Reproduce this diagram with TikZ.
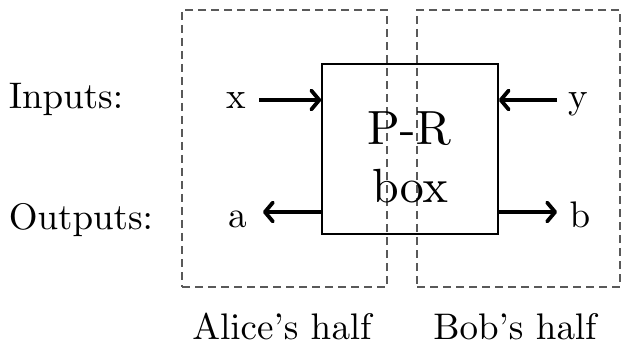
\documentclass[tikz,border=0pt]{standalone}
\usetikzlibrary{arrows.meta}
\font\lblfont=cmr10 at 37pt
\font\prfont=cmr10 at 48pt
\begin{document}
\begin{tikzpicture}[x=1pt,y=-1pt,
  half/.style={draw=black!65,dashed,line width=1.4pt,dash pattern=on 8pt off 5pt},
  prbox/.style={draw=black,line width=1.6pt,minimum width=176pt,minimum height=170pt,inner sep=0pt},
  prtext/.style={font=\prfont,inner sep=0pt,anchor=base},
  lbl/.style={font=\lblfont,inner sep=0pt,anchor=base},
  sig/.style={line width=3.8pt,-{Straight Barb[length=8pt,width=19pt,line width=3.8pt,round]}}
]
\useasboundingbox (0,0) rectangle (622,345);
\node[half,minimum width=205pt,minimum height=277pt,inner sep=0pt] (alice) at (284.5,148.5) {};
\node[half,minimum width=203pt,minimum height=277pt,inner sep=0pt] (bob) at (518.5,148.5) {};
\node[prbox] (pr) at (410,149) {};
\node[prtext] (prt) at (409,145) {P-R};
\node[prtext] (prb) at (410,202) {box};
\node[lbl] (inputs) at (66,109) {Inputs:};
\node[lbl] (outputs) at (81,229) {Outputs:};
\node[lbl] (x) at (236,109) {x};
\node[lbl] (a) at (237,227) {a};
\node[lbl] (y) at (578,109) {y};
\node[lbl] (b) at (580,227) {b};
\node[lbl] (ah) at (282,339) {Alice's half};
\node[lbl] (bh) at (515,339) {Bob's half};
\coordinate (xs) at (259,100);
\coordinate (xe) at (pr.west |- xs);
\coordinate (ye) at (pr.east |- xs);
\coordinate (ys) at (557,100);
\coordinate (as) at (pr.west |- 0,212);
\coordinate (ae) at (263,212);
\coordinate (bs) at (pr.east |- 0,212);
\coordinate (be) at (557,212);
\draw[sig] (xs) -- (xe);
\draw[sig] (ys) -- (ye);
\draw[sig] (as) -- (ae);
\draw[sig] (bs) -- (be);
\end{tikzpicture}
\end{document}
